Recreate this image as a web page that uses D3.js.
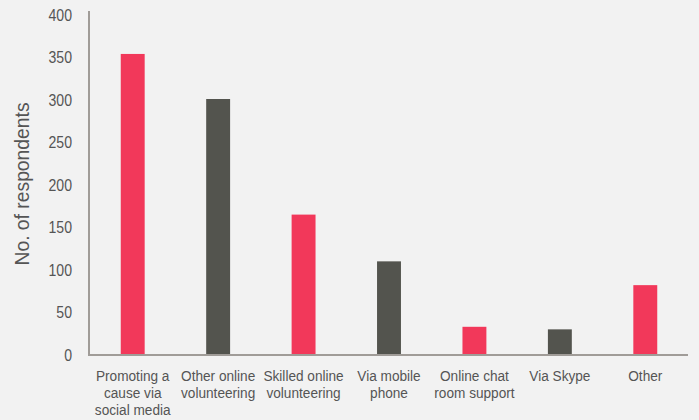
<!DOCTYPE html>
<html>
<head>
<meta charset="utf-8">
<script src="https://cdn.jsdelivr.net/npm/d3@7"></script>
<style>
	html, body { margin: 0; padding: 0; background: #f2f2f2; }
	svg { display: block; font-family: "Liberation Sans", "Roboto", sans-serif; }
</style>
</head>
<body>
<div id="chart"></div>
<script>
// 类别 / 数值
const categories = [
	"Promoting a cause via social media",
	"Other online volunteering",
	"Skilled online volunteering",
	"Via mobile phone",
	"Online chat room support",
	"Via Skype",
	"Other"
]
// x 轴标签换行
const labelLines = [
	["Promoting a", "cause via", "social media"],
	["Other online", "volunteering"],
	["Skilled online", "volunteering"],
	["Via mobile", "phone"],
	["Online chat", "room support"],
	["Via Skype"],
	["Other"]
]
const values = [353, 300, 164, 109, 32, 29, 81]
const yTicks = [0, 50, 100, 150, 200, 250, 300, 350, 400]

const width = 699;
const height = 420;
const margin = ({ top: 14, right: 11, bottom: 66, left: 90 })
const colors = ['#f2385a', '#53544e']
const squeeze = 0.88 // 模拟窄字体

const svg = d3.select('#chart')
	.append('svg')
	.attr('width', width)
	.attr('height', height)

const x = d3.scaleBand()
	.domain(categories)
	.range([margin.left, width - margin.right])
	.paddingInner(0.72)
	.paddingOuter(0.36)

const y = d3.scaleLinear()
	.domain([0, 400])
	.range([height - margin.bottom, margin.top])

// 柱子
svg.append('g')
	.selectAll('rect')
	.data(values)
	.join('rect')
	.attr('x', (d, i) => x(categories[i]))
	.attr('y', d => y(d))
	.attr('width', x.bandwidth())
	.attr('height', d => y(0) - y(d))
	.attr('fill', (d, i) => colors[i % 2])

// y 轴
const yAxis = svg.append('g')
	.attr('transform', `translate(${margin.left - 1},0)`)
	.call(d3.axisLeft(y).tickValues(yTicks).tickSize(0).tickPadding(17))
yAxis.select('.domain')
	.attr('stroke', '#a09c98')
	.attr('stroke-width', 2)
	.attr('d', `M0,${margin.top - 3}V${y(0) + 2}`)
yAxis.selectAll('text')
	.attr('fill', '#555')
	.style('font-size', '16px')
	.attr('dy', '0.4em')
	.attr('x', -17 / squeeze)
	.attr('transform', `scale(${squeeze},1)`)

// x 轴
const xAxis = svg.append('g')
	.attr('transform', `translate(0,${y(0) + 1})`)
	.call(d3.axisBottom(x).tickSize(0).tickFormat(''))
xAxis.select('.domain')
	.attr('stroke', '#a09c98')
	.attr('stroke-width', 2)
	.attr('d', `M${margin.left - 2},0H${width - margin.right}`)

xAxis.selectAll('.tick').each(function (d, i) {
	const t = d3.select(this).select('text')
		.text(null)
		.attr('fill', '#555')
		.style('font-size', '15.5px')
		.attr('y', 0)
		.attr('dy', null)
		.attr('transform', `scale(${squeeze},1)`)
	labelLines[i].forEach((line, j) => {
		t.append('tspan')
			.attr('x', 0)
			.attr('y', 26 + j * 17)
			.text(line)
	})
})

// y 轴标题
svg.append('text')
	.attr('transform', `translate(29,${(y(0) + y(400)) / 2}) rotate(-90) scale(0.92,1)`)
	.attr('text-anchor', 'middle')
	.attr('fill', '#555')
	.style('font-size', '21px')
	.text('No. of respondents')
</script>
</body>
</html>
